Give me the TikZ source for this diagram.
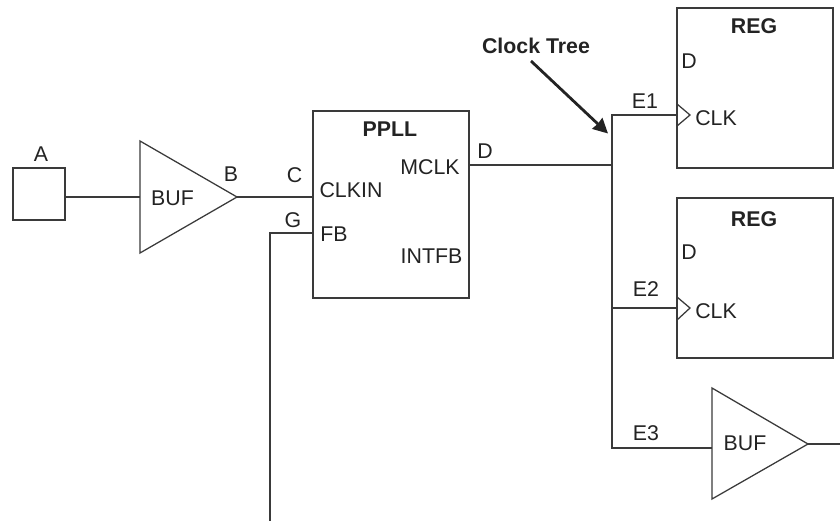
\documentclass[tikz,border=0pt]{standalone}
\usepackage{fontspec}
\setmainfont{Liberation Sans}
\usetikzlibrary{arrows.meta}
\definecolor{ink}{HTML}{232323}
\definecolor{wire}{HTML}{3A3A3A}
\tikzset{
  x=0.75pt,y=-0.75pt,
  box/.style={draw=wire,line width=0.95pt,minimum width=#1*0.75pt,inner sep=0pt,outer sep=0pt},
  wireline/.style={draw=wire,line width=0.95pt,line join=miter},
  lbl/.style={text=ink,font=\fontsize{16}{18}\selectfont,inner sep=0pt,outer sep=0pt},
  blbl/.style={lbl,font=\fontsize{16}{18}\selectfont\bfseries},
  callout/.style={draw=ink,line width=2.1pt,-{Stealth[length=11pt,width=11pt,inset=0.5pt]}}
}
\begin{document}
\begin{tikzpicture}
\useasboundingbox (0,0) rectangle (840,521);
% boxes
\node[box=52,minimum height=52*0.75pt] (input) at (39,194) {};
\node[box=156,minimum height=187*0.75pt] (ppll) at (391,204.5) {};
\node[box=156,minimum height=160*0.75pt] (regone) at (755,88) {};
\node[box=156,minimum height=160*0.75pt] (regtwo) at (755,278) {};
% buffer triangles
\coordinate (bufaT) at (140,141); \coordinate (bufaB) at (140,253); \coordinate (bufaO) at (237,197);
\draw[wireline] (bufaT) -- (bufaO) -- (bufaB) -- cycle;
\coordinate (bufbT) at (712,388); \coordinate (bufbB) at (712,499); \coordinate (bufbO) at (808,444);
\draw[wireline] (bufbT) -- (bufbO) -- (bufbB) -- cycle;
% clock pins
\coordinate (ckaT) at (677,104); \coordinate (ckaO) at (690,115); \coordinate (ckaB) at (677,126);
\draw[wireline] (ckaT) -- (ckaO) -- (ckaB);
\coordinate (ckbT) at (677,297); \coordinate (ckbO) at (690,308); \coordinate (ckbB) at (677,320);
\draw[wireline] (ckbT) -- (ckbO) -- (ckbB);
% pin coordinates
\coordinate (bufaI) at (140,197);
\coordinate (ppllIn) at (313,197);
\coordinate (ppllFb) at (313,233);
\coordinate (fbEnd) at (270,521);
\coordinate (ppllOut) at (469,165);
\coordinate (trunkTop) at (612,115);
\coordinate (trunkMid) at (612,165);
\coordinate (trunkE2) at (612,308);
\coordinate (trunkE3) at (612,448);
\coordinate (regaCk) at (677,115);
\coordinate (regbCk) at (677,308);
\coordinate (bufbI) at (712,448);
\coordinate (bufbEnd) at (840,444);
\coordinate (inputOut) at (66,197);
\coordinate (calloutTip) at (608,133.5);
% connectors
\draw[wireline] (inputOut) -- (bufaI);
\draw[wireline] (bufaO) -- (ppllIn);
\draw[wireline] (fbEnd) |- (ppllFb);
\draw[wireline] (ppllOut) -- (trunkMid);
\draw[wireline] (regaCk) -| (trunkE3) -- (bufbI);
\draw[wireline] (trunkE2) -- (regbCk);
\draw[wireline] (bufbO) -- (bufbEnd);
% labels
\node[lbl] (tA) at (41,154) {A};
\node[lbl] (tB) at (231,174.5) {B};
\node[lbl] (tC) at (294.5,175) {C};
\node[lbl] (tG) at (293,220) {G};
\node[lbl] (tBufa) at (172.5,198) {BUF};
\node[blbl] (tPpll) at (390,129) {PPLL};
\node[lbl] (tMclk) at (430,167) {MCLK};
\node[lbl] (tClkin) at (351,190.5) {CLKIN};
\node[lbl] (tFb) at (334,234) {FB};
\node[lbl] (tIntfb) at (431.5,256) {INTFB};
\node[lbl] (tDout) at (485,151.5) {D};
\node[lbl] (tEa) at (645,101) {E1};
\node[blbl] (tRega) at (754,26) {REG};
\node[lbl] (tDa) at (689,61) {D};
\node[lbl] (tCka) at (716,118.5) {CLK};
\node[blbl] (tRegb) at (754,219) {REG};
\node[lbl] (tDb) at (689,252) {D};
\node[lbl] (tEb) at (646,289.5) {E2};
\node[lbl] (tCkb) at (716,311.5) {CLK};
\node[lbl] (tEc) at (646,433) {E3};
\node[lbl] (tBufb) at (745,443) {BUF};
\node[blbl] (tClock) at (536,46) {Clock Tree};
\coordinate (calloutStart) at (531,61);
\draw[callout] (calloutStart) -- (calloutTip);
\end{tikzpicture}
\end{document}
